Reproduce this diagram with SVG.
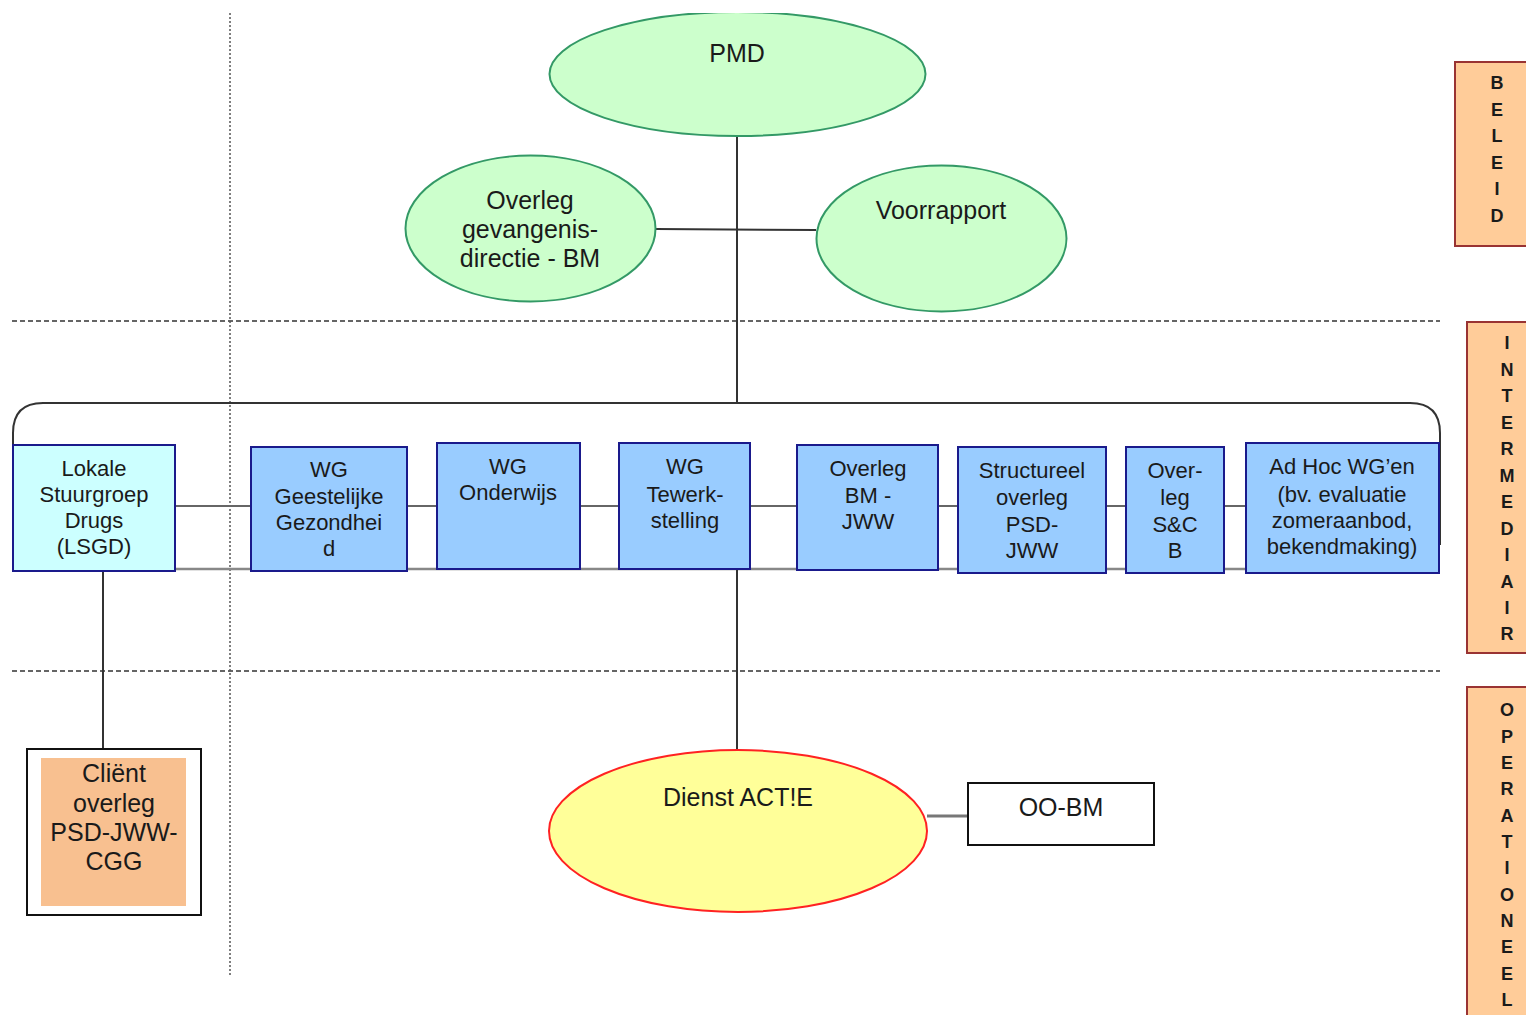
<svg xmlns="http://www.w3.org/2000/svg" width="1526" height="1015" viewBox="0 0 1526 1015">
<style>
text{font-family:"Liberation Sans",Arial,sans-serif;fill:#1a1a1a;text-anchor:middle;dominant-baseline:central}
.ell{fill:#ccffcc;stroke:#339966;stroke-width:2}
.wg{fill:#99ccff;stroke:#1a1a8c;stroke-width:2}
.t22{font-size:22px}
.t25{font-size:25px}
.lab{fill:#ffcc99;stroke:#993333;stroke-width:2}
.lt{font-size:18px;font-weight:bold}
.conn{stroke:#333;stroke-width:2;fill:none}
.dash{stroke:#333;stroke-width:1.5;stroke-dasharray:5 3;fill:none}
</style>
<defs>
<clipPath id="topclip"><rect x="0" y="13" width="1526" height="1002"/></clipPath>
</defs>
<rect width="1526" height="1015" fill="#fff"/>
<g id="guides">
<line class="dash" x1="12" y1="321" x2="1440" y2="321"/>
<line class="dash" x1="12" y1="671" x2="1440" y2="671"/>
<line x1="230" y1="13" x2="230" y2="975" stroke="#555" stroke-width="1.5" stroke-dasharray="2 2"/>
</g>
<g id="connectors">
<line class="conn" x1="737" y1="136" x2="737" y2="403"/>
<line class="conn" x1="656" y1="229" x2="816" y2="230" stroke="#444"/>
<path class="conn" d="M13,445 V433 Q13,403 43,403 H1410 Q1440,403 1440,433 V545" stroke="#555"/>
<line x1="175" y1="569" x2="1440" y2="569" stroke="#888" stroke-width="2.5"/>
<line x1="175" y1="506" x2="1246" y2="506" stroke="#666" stroke-width="2"/>
<line class="conn" x1="103" y1="571" x2="103" y2="749"/>
<line class="conn" x1="737" y1="569" x2="737" y2="750"/>
<line x1="927" y1="816" x2="968" y2="816" stroke="#777" stroke-width="3"/>
</g>
<g id="pmd">
<ellipse class="ell" cx="737.5" cy="74" rx="188" ry="62" clip-path="url(#topclip)"/>
<text class="t25" x="737" y="53">PMD</text>
</g>
<g id="overleg-gevangenis">
<ellipse class="ell" cx="530.5" cy="228.5" rx="125" ry="73"/>
<text class="t25" x="530" y="200">Overleg</text>
<text class="t25" x="530" y="229">gevangenis-</text>
<text class="t25" x="530" y="258">directie - BM</text>
</g>
<g id="voorrapport">
<ellipse class="ell" cx="941.5" cy="238.5" rx="125" ry="73"/>
<text class="t25" x="941" y="210">Voorrapport</text>
</g>
<g id="lsgd">
<rect x="13" y="445" width="162" height="126" fill="#ccffff" stroke="#1a1a8c" stroke-width="2"/>
<text class="t22" x="94" y="468">Lokale</text>
<text class="t22" x="94" y="494">Stuurgroep</text>
<text class="t22" x="94" y="520">Drugs</text>
<text class="t22" x="94" y="546">(LSGD)</text>
</g>
<g id="wg-gezondheid">
<rect class="wg" x="251" y="447" width="156" height="124"/>
<text class="t22" x="329" y="469">WG</text>
<text class="t22" x="329" y="496">Geestelijke</text>
<text class="t22" x="329" y="522">Gezondhei</text>
<text class="t22" x="329" y="548">d</text>
</g>
<g id="wg-onderwijs">
<rect class="wg" x="437" y="443" width="143" height="126"/>
<text class="t22" x="508" y="466">WG</text>
<text class="t22" x="508" y="492">Onderwijs</text>
</g>
<g id="wg-tewerkstelling">
<rect class="wg" x="619" y="443" width="131" height="126"/>
<text class="t22" x="685" y="466">WG</text>
<text class="t22" x="685" y="494">Tewerk-</text>
<text class="t22" x="685" y="520">stelling</text>
</g>
<g id="overleg-bm-jww">
<rect class="wg" x="797" y="445" width="141" height="125"/>
<text class="t22" x="868" y="468">Overleg</text>
<text class="t22" x="868" y="495">BM -</text>
<text class="t22" x="868" y="521">JWW</text>
</g>
<g id="structureel">
<rect class="wg" x="958" y="447" width="148" height="126"/>
<text class="t22" x="1032" y="470">Structureel</text>
<text class="t22" x="1032" y="497">overleg</text>
<text class="t22" x="1032" y="524">PSD-</text>
<text class="t22" x="1032" y="550">JWW</text>
</g>
<g id="overleg-scb">
<rect class="wg" x="1126" y="447" width="98" height="126"/>
<text class="t22" x="1175" y="470">Over-</text>
<text class="t22" x="1175" y="497">leg</text>
<text class="t22" x="1175" y="524">S&amp;C</text>
<text class="t22" x="1175" y="550">B</text>
</g>
<g id="adhoc">
<rect class="wg" x="1246" y="443" width="193" height="130"/>
<text class="t22" x="1342" y="466">Ad Hoc WG’en</text>
<text class="t22" x="1342" y="494">(bv. evaluatie</text>
<text class="t22" x="1342" y="520">zomeraanbod,</text>
<text class="t22" x="1342" y="546">bekendmaking)</text>
</g>
<g id="client-overleg">
<rect x="27" y="749" width="174" height="166" fill="#fff" stroke="#111" stroke-width="2"/>
<rect x="41" y="758" width="145" height="148" fill="#f8c090"/>
<text class="t25" x="114" y="773">Cliënt</text>
<text class="t25" x="114" y="803">overleg</text>
<text class="t25" x="114" y="832">PSD-JWW-</text>
<text class="t25" x="114" y="861">CGG</text>
</g>
<g id="dienst-actie">
<ellipse cx="738" cy="831" rx="189" ry="81" fill="#ffff99" stroke="#ff2222" stroke-width="2"/>
<text class="t25" x="738" y="797">Dienst ACT!E</text>
</g>
<g id="oo-bm">
<rect x="968" y="783" width="186" height="62" fill="#fff" stroke="#111" stroke-width="2"/>
<text class="t25" x="1061" y="807">OO-BM</text>
</g>
<g id="beleid">
<rect class="lab" x="1455" y="62" width="80" height="184"/>
<text class="lt" x="1497" y="83">B</text>
<text class="lt" x="1497" y="109.5">E</text>
<text class="lt" x="1497" y="136">L</text>
<text class="lt" x="1497" y="162.5">E</text>
<text class="lt" x="1497" y="189">I</text>
<text class="lt" x="1497" y="216">D</text>
</g>
<g id="intermediair">
<rect class="lab" x="1467" y="322" width="70" height="331"/>
<text class="lt" x="1507" y="343">I</text>
<text class="lt" x="1507" y="369.5">N</text>
<text class="lt" x="1507" y="396">T</text>
<text class="lt" x="1507" y="422.5">E</text>
<text class="lt" x="1507" y="449">R</text>
<text class="lt" x="1507" y="475.5">M</text>
<text class="lt" x="1507" y="502">E</text>
<text class="lt" x="1507" y="528.5">D</text>
<text class="lt" x="1507" y="555">I</text>
<text class="lt" x="1507" y="581.5">A</text>
<text class="lt" x="1507" y="608">I</text>
<text class="lt" x="1507" y="634">R</text>
</g>
<g id="operationeel">
<rect class="lab" x="1467" y="687" width="70" height="340"/>
<text class="lt" x="1507" y="710">O</text>
<text class="lt" x="1507" y="736.5">P</text>
<text class="lt" x="1507" y="763">E</text>
<text class="lt" x="1507" y="789">R</text>
<text class="lt" x="1507" y="815.5">A</text>
<text class="lt" x="1507" y="842">T</text>
<text class="lt" x="1507" y="868">I</text>
<text class="lt" x="1507" y="894.5">O</text>
<text class="lt" x="1507" y="921">N</text>
<text class="lt" x="1507" y="947">E</text>
<text class="lt" x="1507" y="973.5">E</text>
<text class="lt" x="1507" y="1000">L</text>
</g>
</svg>
